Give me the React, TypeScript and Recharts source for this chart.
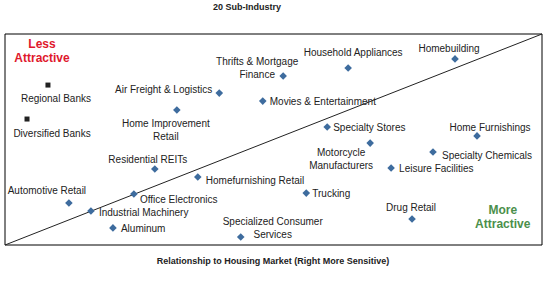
import React from 'react';
import { ScatterChart, Scatter, XAxis, YAxis, ReferenceLine, ReferenceArea } from 'recharts';

// Sub-industries (diamond markers)
const industryNames = [
  'Air Freight & Logistics', 'Home Improvement Retail', 'Movies & Entertainment',
  'Thrifts & Mortgage Finance', 'Household Appliances', 'Homebuilding',
  'Specialty Stores', 'Home Furnishings', 'Motorcycle Manufacturers',
  'Specialty Chemicals', 'Leisure Facilities', 'Trucking', 'Drug Retail',
  'Specialized Consumer Services', 'Residential REITs', 'Homefurnishing Retail',
  'Office Electronics', 'Automotive Retail', 'Industrial Machinery', 'Aluminum',
];
const industryX = [39.9, 32.0, 48.0, 51.8, 63.9, 83.8, 60.0, 87.9, 68.0, 79.7, 71.9, 56.1, 75.8, 43.9, 27.9, 35.9, 24.0, 11.9, 16.0, 20.1];
const industryY = [72.0, 64.0, 68.2, 80.1, 83.9, 88.2, 55.9, 51.7, 48.3, 44.1, 36.5, 24.6, 12.3, 3.8, 36.0, 32.2, 24.2, 19.9, 16.1, 8.1];

// Banks (square markers)
const bankNames = ['Regional Banks', 'Diversified Banks'];
const bankX = [8.0, 4.1];
const bankY = [75.8, 59.7];

// Corner annotations
const noteLines = [['Less', 'Attractive'], ['More', 'Attractive']];
const noteX = [6.9, 92.7];
const noteY = [91.9, 13.3];
const noteColors = ['#e0182c', '#4b8f4b'];

type Place = { dx: number; dy: number; anchor: 'start' | 'middle' | 'end'; lines?: string[] };

// where each label sits relative to its marker
const placement: Record<string, Place> = {
  'Regional Banks': { dx: 8, dy: 13, anchor: 'middle' },
  'Diversified Banks': { dx: 25, dy: 14, anchor: 'middle' },
  'Air Freight & Logistics': { dx: -7, dy: -4, anchor: 'end' },
  'Home Improvement Retail': { dx: -11, dy: 13, anchor: 'middle', lines: ['Home Improvement', 'Retail'] },
  'Movies & Entertainment': { dx: 7, dy: 0, anchor: 'start' },
  'Thrifts & Mortgage Finance': { dx: -26, dy: -15, anchor: 'middle', lines: ['Thrifts & Mortgage', 'Finance'] },
  'Household Appliances': { dx: 5, dy: -16, anchor: 'middle' },
  'Homebuilding': { dx: -6, dy: -11, anchor: 'middle' },
  'Specialty Stores': { dx: 6, dy: 0, anchor: 'start' },
  'Home Furnishings': { dx: 13, dy: -9, anchor: 'middle' },
  'Motorcycle Manufacturers': { dx: -29, dy: 9, anchor: 'middle', lines: ['Motorcycle', 'Manufacturers'] },
  'Specialty Chemicals': { dx: 9, dy: 3, anchor: 'start' },
  'Leisure Facilities': { dx: 8, dy: 0, anchor: 'start' },
  'Trucking': { dx: 6, dy: 0, anchor: 'start' },
  'Drug Retail': { dx: -1, dy: -12, anchor: 'middle' },
  'Specialized Consumer Services': { dx: 32, dy: -16, anchor: 'middle', lines: ['Specialized Consumer', 'Services'] },
  'Residential REITs': { dx: -7, dy: -10, anchor: 'middle' },
  'Homefurnishing Retail': { dx: 8, dy: 3, anchor: 'start' },
  'Office Electronics': { dx: 6, dy: 5, anchor: 'start' },
  'Automotive Retail': { dx: -22, dy: -13, anchor: 'middle' },
  'Industrial Machinery': { dx: 8, dy: 1, anchor: 'start' },
  'Aluminum': { dx: 8, dy: 0, anchor: 'start' },
};

const industries = industryNames.map((name, i) => ({ name, x: industryX[i], y: industryY[i] }));
const banks = bankNames.map((name, i) => ({ name, x: bankX[i], y: bankY[i] }));
const notes = noteLines.map((lines, i) => ({ lines, x: noteX[i], y: noteY[i], color: noteColors[i] }));

const FONT = '"Liberation Sans", Arial, sans-serif';

const PointLabel = ({ cx, cy, name }: { cx: number; cy: number; name: string }) => {
  const p = placement[name] || { dx: 6, dy: 0, anchor: 'start' };
  const lines = p.lines || [name];
  return (
    <text x={cx + p.dx} y={cy + p.dy} textAnchor={p.anchor} dominantBaseline="central" fontSize={10} fontFamily={FONT} fill="#222">
      {lines.map((l, k) => (
        <tspan key={k} x={cx + p.dx} dy={k === 0 ? 0 : 13}>{l}</tspan>
      ))}
    </text>
  );
};

const Diamond = (props: any) => {
  const { cx, cy, payload } = props;
  const r = 3.8;
  return (
    <g>
      <polygon points={`${cx},${cy - r} ${cx + r},${cy} ${cx},${cy + r} ${cx - r},${cy}`} fill="#3e6c9e" />
      <PointLabel cx={cx} cy={cy} name={payload.name} />
    </g>
  );
};

const Square = (props: any) => {
  const { cx, cy, payload } = props;
  return (
    <g>
      <rect x={cx - 2.5} y={cy - 2.5} width={5} height={5} fill="#222" />
      <PointLabel cx={cx} cy={cy} name={payload.name} />
    </g>
  );
};

const Note = (props: any) => {
  const { cx, cy, payload } = props;
  return (
    <text x={cx} y={cy - 7} textAnchor="middle" dominantBaseline="central" fontSize={12} fontWeight="bold" fontFamily={FONT} fill={payload.color}>
      {payload.lines.map((l: string, k: number) => (
        <tspan key={k} x={cx} dy={k === 0 ? 0 : 14}>{l}</tspan>
      ))}
    </text>
  );
};

export default function App() {
  return (
    <div style={{ position: 'absolute', left: 0, top: 0, width: 556, height: 283, background: '#fff', fontFamily: FONT }}>
      <div style={{ position: 'absolute', left: 0, width: 494, top: 2, textAlign: 'center', fontSize: 9, fontWeight: 'bold', color: '#222' }}>
        20 Sub-Industry
      </div>
      <ScatterChart width={556} height={283} margin={{ top: 34, right: 14, bottom: 38, left: 5 }}>
        <XAxis type="number" dataKey="x" domain={[0, 100]} hide />
        <YAxis type="number" dataKey="y" domain={[0, 100]} hide />
        <ReferenceArea x1={0} x2={100} y1={0} y2={100} fill="none" stroke="#000" strokeWidth={1} fillOpacity={0} />
        <ReferenceLine segment={[{ x: 0, y: 0 }, { x: 100, y: 100 }]} stroke="#222" strokeWidth={1} />
        <Scatter data={notes} shape={Note} isAnimationActive={false} />
        <Scatter data={banks} shape={Square} isAnimationActive={false} />
        <Scatter data={industries} shape={Diamond} isAnimationActive={false} />
      </ScatterChart>
      <div style={{ position: 'absolute', left: 0, width: 546, top: 256, textAlign: 'center', fontSize: 9, fontWeight: 'bold', color: '#222' }}>
        Relationship to Housing Market (Right More Sensitive)
      </div>
    </div>
  );
}
